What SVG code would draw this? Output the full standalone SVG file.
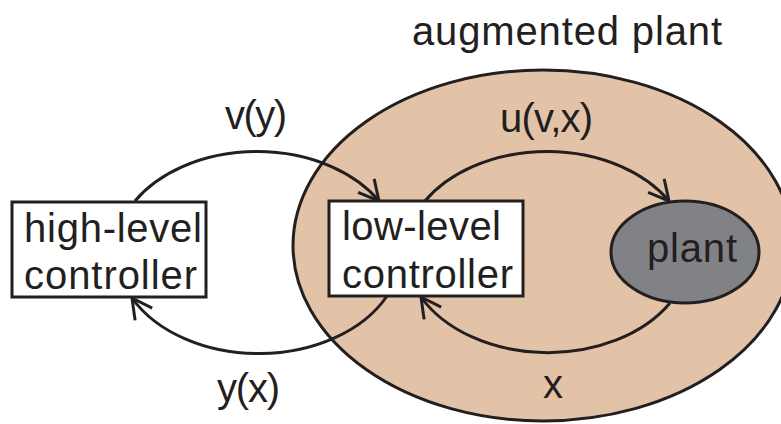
<svg xmlns="http://www.w3.org/2000/svg" width="781" height="424" viewBox="0 0 781 424">
<style>
text{font-family:"Liberation Sans","Open Sans",Arial,sans-serif;font-size:40px;fill:#231f20}
.ln{fill:none;stroke:#231f20;stroke-width:3}
.box{fill:#ffffff;stroke:#231f20;stroke-width:3}
</style>
<defs>
<marker id="arr" markerUnits="userSpaceOnUse" markerWidth="30" markerHeight="30" viewBox="-25 -15 30 30" refX="0" refY="0" orient="auto">
<path d="M-20,-10.5 L0,0 L-20,10.5" fill="none" stroke="#231f20" stroke-width="3"/>
</marker>
</defs>
<g id="augmented-plant">
<ellipse cx="543" cy="245.5" rx="250" ry="175.5" fill="#e2c3a7" stroke="#231f20" stroke-width="3"/>
<text x="412" y="45" textLength="310">augmented plant</text>
</g>
<g id="connectors">
<path class="ln" d="M135,201 A142.6,102.5 0 0 1 379,201" marker-end="url(#arr)"/>
<path class="ln" d="M387,296 A142.6,102.5 0 0 1 132,298" marker-end="url(#arr)"/>
<path class="ln" d="M425,201 A142.6,102.5 0 0 1 669,201" marker-end="url(#arr)"/>
<path class="ln" d="M670,303 A142.6,102.5 0 0 1 421,297" marker-end="url(#arr)"/>
<text x="225" y="129" textLength="62">v(y)</text>
<text x="217" y="402" textLength="63">y(x)</text>
<text x="500" y="132" textLength="93">u(v,x)</text>
<text x="543" y="398" textLength="19">x</text>
</g>
<g id="high-level-controller">
<rect class="box" x="12" y="202" width="194" height="95"/>
<text x="24" y="242" textLength="178">high-level</text>
<text x="24" y="289" textLength="173">controller</text>
</g>
<g id="low-level-controller">
<rect class="box" x="329" y="201" width="194" height="95"/>
<text x="342" y="240" textLength="159">low-level</text>
<text x="342" y="288" textLength="171">controller</text>
</g>
<g id="plant">
<ellipse cx="685" cy="252" rx="74" ry="51" fill="#818285" stroke="#231f20" stroke-width="3"/>
<text x="647" y="262" textLength="90">plant</text>
</g>
</svg>
